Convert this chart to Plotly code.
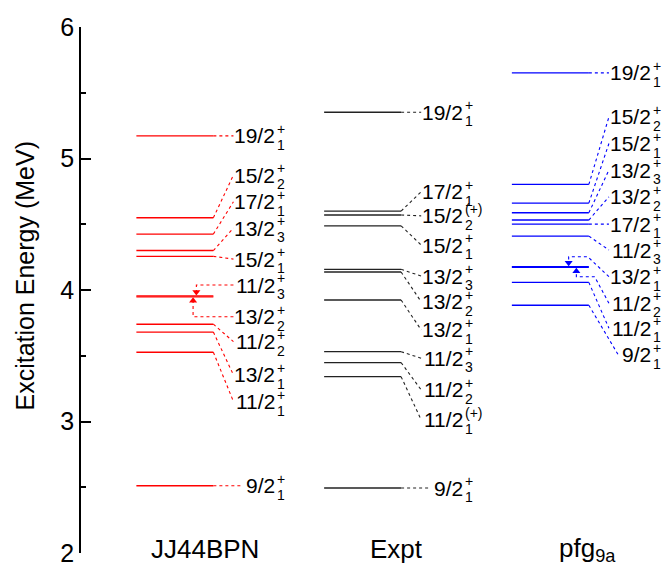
import plotly.graph_objects as go

# ---------------- data ----------------
columns = ["JJ44BPN", "Expt", "pfg<sub>9a</sub>"]

# JJ44BPN (red)
jj_spin = ["19/2", "15/2", "17/2", "13/2", "15/2", "11/2", "13/2", "11/2", "13/2", "11/2", "9/2"]
jj_idx = ["1", "2", "1", "3", "1", "3", "2", "2", "1", "1", "1"]
jj_par = ["+"] * 11
jj_energy = [5.172, 4.549, 4.425, 4.300, 4.256, 3.955, 3.948, 3.740, 3.680, 3.527, 2.511]
jj_label_y = [5.172, 4.874, 4.671, 4.471, 4.235, 4.038, 3.797, 3.607, 3.354, 3.152, 2.511]

# Experiment (black)
ex_spin = ["19/2", "17/2", "15/2", "15/2", "13/2", "13/2", "13/2", "11/2", "11/2", "11/2", "9/2"]
ex_idx = ["1", "1", "2", "1", "3", "2", "1", "3", "2", "1", "1"]
ex_par = ["+", "+", "(+)", "+", "+", "+", "+", "+", "+", "(+)", "+"]
ex_energy = [5.352, 4.600, 4.570, 4.488, 4.157, 4.137, 3.924, 3.531, 3.448, 3.341, 2.494]
ex_label_y = [5.352, 4.747, 4.564, 4.342, 4.106, 3.911, 3.696, 3.481, 3.240, 3.012, 2.494]

# pfg9a (blue)
pf_spin = ["19/2", "15/2", "15/2", "13/2", "13/2", "17/2", "11/2", "13/2", "11/2", "11/2", "9/2"]
pf_idx = ["1", "2", "1", "3", "2", "1", "3", "1", "2", "1", "1"]
pf_par = ["+"] * 11
pf_energy = [5.651, 4.803, 4.661, 4.587, 4.532, 4.501, 4.410, 4.178, 4.172, 4.058, 3.884]
pf_label_y = [5.651, 5.316, 5.114, 4.912, 4.709, 4.501, 4.304, 4.101, 3.899, 3.709, 3.506]

y_ticks = [2, 3, 4, 5, 6]

# ---------------- styling / layout constants ----------------
HALF = 0.205        # half width of a level line (x units)
LAB_END = 0.312     # where connectors meet the label
LAB_END_SHORT = 0.362
TXT_RIGHT = 0.545   # right edge of spin text
FONT = "Liberation Sans, Arial, Helvetica, sans-serif"

fig = go.Figure()
annotations = []


def add_column(c, spins, idxs, pars, energies, label_ys, color, special):
    lx, ly = [], []
    for e in energies:
        lx += [c - HALF, c + HALF, None]
        ly += [e, e, None]
    fig.add_trace(go.Scatter(x=lx, y=ly, mode="lines",
                             line=dict(color=color, width=1.4),
                             hoverinfo="skip", showlegend=False))
    cx, cy = [], []
    mx, my, msym = [], [], []
    for i, (s, e, yl) in enumerate(zip(spins, energies, label_ys)):
        end = LAB_END_SHORT if len(s) == 3 else LAB_END
        if i in special:
            knee, elbow, up = special[i]
            pts_x = [c + end]
            pts_y = [yl]
            if elbow is not None:
                pts_x.append(c + elbow[0])
                pts_y.append(elbow[1])
                ykn = elbow[1]
            else:
                ykn = yl
            pts_x += [c + knee, c + knee]
            tip = e + (0.03 if not up else -0.03)
            pts_y += [ykn, tip]
            cx += pts_x + [None]
            cy += pts_y + [None]
            mx.append(c + knee)
            my.append(tip)
            msym.append("triangle-up" if up else "triangle-down")
        else:
            cx += [c + HALF, c + end, None]
            cy += [e, yl, None]
        annotations.append(dict(x=c + TXT_RIGHT, y=yl, xref="x", yref="y", text=s,
                                showarrow=False, xanchor="right", yanchor="middle",
                                font=dict(size=21, color="black", family=FONT)))
        annotations.append(dict(x=c + TXT_RIGHT, y=yl, xref="x", yref="y", text=pars[i],
                                showarrow=False, xanchor="left", yanchor="middle",
                                xshift=-2, yshift=7,
                                font=dict(size=14, color="black", family=FONT)))
        annotations.append(dict(x=c + TXT_RIGHT, y=yl, xref="x", yref="y", text=idxs[i],
                                showarrow=False, xanchor="left", yanchor="middle",
                                xshift=-2, yshift=-9,
                                font=dict(size=14, color="black", family=FONT)))
    fig.add_trace(go.Scatter(x=cx, y=cy, mode="lines",
                             line=dict(color=color, width=1.1, dash="dot"),
                             hoverinfo="skip", showlegend=False))
    if mx:
        fig.add_trace(go.Scatter(x=mx, y=my, mode="markers",
                                 marker=dict(symbol=msym, size=7, color=color),
                                 hoverinfo="skip", showlegend=False))


add_column(1, jj_spin, jj_idx, jj_par, jj_energy, jj_label_y, "#ff0000",
           {5: (0.1145, None, False), 6: (0.097, None, True)})
add_column(2, ex_spin, ex_idx, ex_par, ex_energy, ex_label_y, "#222222", {})
add_column(3, pf_spin, pf_idx, pf_par, pf_energy, pf_label_y, "#0000ff",
           {7: (0.0975, (0.199, 4.253), False), 8: (0.1385, (0.236, 4.101), True)})

col_label_x = [1.16, 2.18, 3.2]
for name, x in zip(columns, col_label_x):
    annotations.append(dict(x=x, y=2.03, xref="x", yref="y", text=name, showarrow=False,
                            xanchor="center", yanchor="middle",
                            font=dict(size=26, color="black", family=FONT)))

annotations.append(dict(x=-0.0962, y=0.5275, xref="paper", yref="paper",
                        text="Excitation Energy (MeV)", textangle=-90, showarrow=False,
                        xanchor="center", yanchor="middle",
                        font=dict(size=25, color="black", family=FONT)))

fig.update_layout(
    width=663, height=565,
    margin=dict(l=81, r=0, t=27, b=12, autoexpand=False),
    paper_bgcolor="white", plot_bgcolor="white",
    annotations=annotations,
    showlegend=False,
    xaxis=dict(range=[0.5, 3.6], visible=False, showgrid=False, zeroline=False),
    yaxis=dict(range=[2, 6], tickvals=y_ticks, ticktext=[str(t) for t in y_ticks],
               showline=True, linecolor="black", linewidth=1.5,
               ticks="inside", ticklen=10, tickwidth=1.5, tickcolor="black",
               minor=dict(dtick=0.5, ticks="inside", ticklen=5, tickwidth=1.5,
                          tickcolor="black", showgrid=False),
               showgrid=False, zeroline=False, ticklabeloverflow="allow",
               tickfont=dict(size=25, color="black", family=FONT)),
)

fig.write_html(
    "out.html",
    config={"displayModeBar": False},
    post_script="document.body.style.margin='0';document.body.style.overflow='hidden';",
)
